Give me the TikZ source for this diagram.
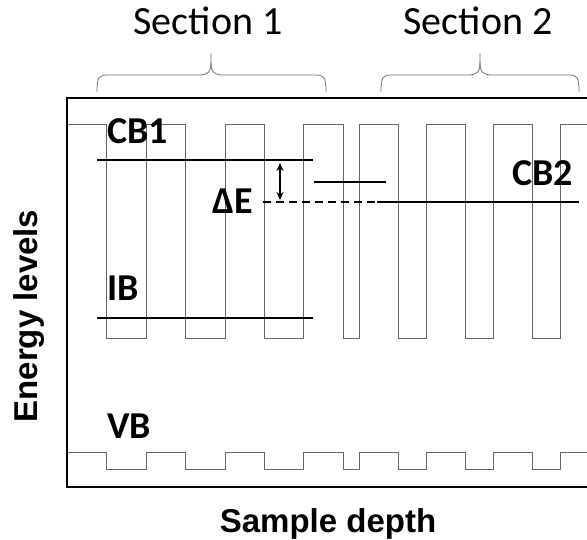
\documentclass[tikz,border=0pt]{standalone}
\usepackage{fontspec}
\setmainfont{Carlito}
\newfontfamily\arialfont{Liberation Sans}
\usetikzlibrary{arrows.meta}

\begin{document}
\begin{tikzpicture}[x=1pt,y=-1pt,
    band/.style={color=black!60,line width=1pt},
    level/.style={line width=2pt},
    frame/.style={line width=2.5pt},
    brc/.style={color=black!55,line width=0.8pt},
    lbl/.style={font=\bfseries\fontsize{38}{40}\selectfont,inner sep=0pt,anchor=base west},
    sec/.style={font=\fontsize{40}{42}\selectfont,inner sep=0pt,anchor=base},
    axl/.style={font=\arialfont\bfseries\fontsize{33}{35}\selectfont,inner sep=0pt}]
  \useasboundingbox (0,0) rectangle (587,539);
  % conduction and valence band edges
  \draw[band] (67,124) \foreach \a/\b in {106/146,185/225,264/303,343/359,398/426,465/493,532/560}{%
      -- (\a,124) -- (\a,338) -- (\b,338) -- (\b,124)} -- (595,124);
  \draw[band] (67,452) \foreach \a/\b in {106/146,185/225,264/303,343/359,398/426,465/493,532/560}{%
      -- (\a,452) -- (\a,469) -- (\b,469) -- (\b,452)} -- (595,452);
  % axes
  \draw[frame] (595,98) -- (67,98) -- (67,487) -- (595,487);
  % levels
  \draw[level] (97,160) -- (313,160);
  \draw[level] (97,318) -- (313,318);
  \draw[level] (314,182) -- (386,182);
  \draw[level,dash pattern=on 8pt off 5pt] (263,202) -- (377,202);
  \draw[level] (377,202) -- (579,202);
  \coordinate (dEtop) at (280,163);
  \coordinate (dEbot) at (280,200);
  \draw[{Stealth[length=8pt,width=7pt]}-{Stealth[length=8pt,width=7pt]},line width=1.4pt] (dEtop) -- (dEbot);
  % braces
  \foreach \l/\m/\r in {97/211/326,381/480/579}{%
    \draw[brc] (\l,92) .. controls (\l,76) and (\l+2,75) .. (\l+12,75) -- (\m-12,75)
      .. controls (\m-3,75) and (\m,72) .. (\m,62) -- (\m,53);
    \draw[brc] (\m,62) .. controls (\m,72) and (\m+3,75) .. (\m+12,75) -- (\r-12,75)
      .. controls (\r-2,75) and (\r,76) .. (\r,92);
  }
  % labels
  \node[sec] (secone) at (208,34) {Section 1};
  \node[sec] (sectwo) at (478,34) {Section 2};
  \node[lbl] (cbone) at (107,143) {CB1};
  \node[lbl] (ib) at (107,300) {IB};
  \node[lbl] (vb) at (107,438) {VB};
  \node[lbl] (cbtwo) at (512,185) {CB2};
  \node[lbl] (dE) at (212,213) {ΔE};
  \node[axl,anchor=base] (xlab) at (328,532) {Sample depth};
  \node[axl,rotate=90] (ylab) at (29,316) {Energy levels};
\end{tikzpicture}
\end{document}
